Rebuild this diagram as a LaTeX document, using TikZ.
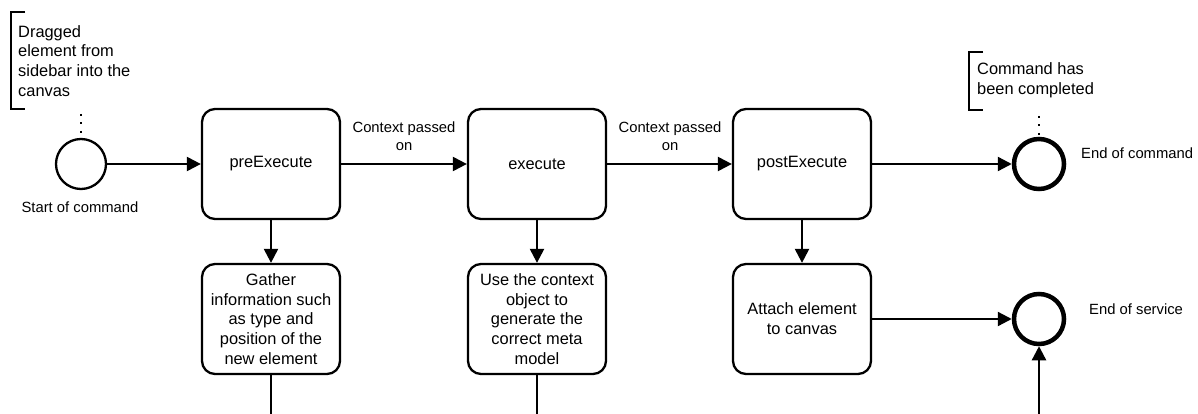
\documentclass[tikz,border=0pt]{standalone}
\usepackage{fontspec}
\setmainfont{Liberation Sans}
\usetikzlibrary{arrows.meta}
\begin{document}
\begin{tikzpicture}[x=1pt,y=-1pt,
  every node/.style={font=\fontsize{16.4}{19.8}\selectfont},
  task/.style={draw, line width=2.3pt, rounded corners=13pt, minimum width=138pt, minimum height=110pt, align=center, inner sep=0pt},
  startev/.style={draw, circle, line width=2.3pt, minimum size=50pt, inner sep=0pt},
  endev/.style={draw, circle, line width=4.5pt, minimum size=50pt, inner sep=0pt},
  flow/.style={line width=2.3pt, -{Triangle[length=14pt,width=14pt]}},
  plain/.style={line width=2.3pt},
  assoc/.style={line width=2.3pt, dash pattern=on 2pt off 6.5pt},
  small/.style={font=\fontsize{14.8}{18}\selectfont, align=center, inner sep=0pt},
  annot/.style={align=left, inner sep=0pt, anchor=west}
]
\useasboundingbox (0,0) rectangle (1198,414);

% events
\node[startev] (start) at (81,164) {};
\node[endev] (endcmd) at (1039,164) {};
\node[endev] (endsvc) at (1039,319) {};

% tasks
\node[task] (pre) at (271,164) {preExecute};
\node[task] (exe) at (537,164) {execute};
\node[task] (post) at (802,164) {postExecute};
\node[task] (gather) at (271,319) {Gather\\information such\\as type and\\position of the\\new element};
\node[task] (use) at (537,319) {Use the context\\object to\\generate the\\correct meta\\model};
\node[task] (attach) at (802,319) {Attach element\\to canvas};

% labels
\node[small] (lstart) at (80,207) {Start of command};
\node[small, anchor=west] (lendcmd) at (1081,153) {End of command};
\node[small, anchor=west] (lendsvc) at (1089,309) {End of service};
\node[small] (ctx1) at (404,136) {Context passed\\on};
\node[small] (ctx2) at (670,136) {Context passed\\on};

% annotations
\coordinate (a1t) at (25,12);
\coordinate (a1b) at (25,109);
\draw[plain] (a1t) -- (11,12) -- (11,109) -- (a1b);
\node[annot] (ann1) at (18,61) {Dragged\\element from\\sidebar into the\\canvas};
\coordinate (a1c) at (81,114);
\draw[assoc] (a1c) -- (start.north);

\coordinate (a2t) at (983,52);
\coordinate (a2b) at (983,110);
\draw[plain] (a2t) -- (969,52) -- (969,110) -- (a2b);
\node[annot] (ann2) at (977,80) {Command has\\been completed};
\coordinate (a2c) at (1039,116);
\draw[assoc] (a2c) -- (endcmd.north);

% flows
\draw[flow] (start) -- (pre);
\draw[flow] (pre) -- (exe);
\draw[flow] (exe) -- (post);
\draw[flow] (post) -- (endcmd);
\draw[flow] (pre) -- (gather);
\draw[flow] (exe) -- (use);
\draw[flow] (post) -- (attach);
\draw[flow] (attach) -- (endsvc);

\coordinate (g1) at (271,415);
\coordinate (u1) at (537,415);
\coordinate (e1) at (1039,415);
\draw[plain] (gather) -- (g1);
\draw[plain] (use) -- (u1);
\draw[flow] (e1) -- (endsvc);
\end{tikzpicture}
\end{document}
